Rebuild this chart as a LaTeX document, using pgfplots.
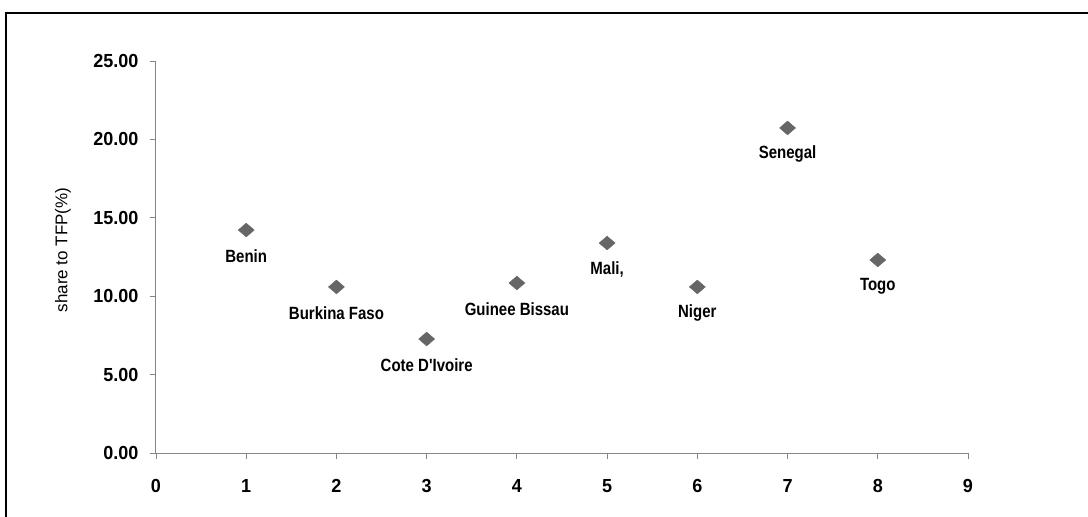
\documentclass[border=0pt]{standalone}
\usepackage{fontspec}
\setmainfont{Liberation Sans}
\usepackage{pgfplots}
\pgfplotsset{compat=1.18}
\definecolor{axgray}{RGB}{134,134,134}
\definecolor{mkgray}{RGB}{102,102,102}
\begin{document}
\begin{tikzpicture}[x=1pt,y=1pt]
\useasboundingbox (-156,-64) rectangle (932,453);
\draw[line width=2.5pt,black] (-150,-80) -- (-150,440) -- (950,440);
\begin{axis}[
  at={(0,0)}, anchor=south west,
  scale only axis, width=812pt, height=392pt,
  xmin=0, xmax=9, ymin=0, ymax=25,
  axis x line*=bottom, axis y line*=left,
  axis line style={draw=axgray, line width=1pt},
  xtick={0,1,...,9}, ytick={0,5,...,25},
  tick style={draw=axgray, line width=0.8pt},
  tick align=outside, major tick length=6pt,
  /pgf/number format/assume math mode=true,
  ticklabel style={font=\fontsize{18}{20}\selectfont\bfseries, text=black, yscale=1.05},
  yticklabel style={/pgf/number format/.cd, fixed, fixed zerofill, precision=2, /tikz/.cd, xshift=-8pt},
  xticklabel style={yshift=-16pt},
  ylabel={share to TFP(\%)},
  ylabel style={font=\fontsize{17}{19}\selectfont, at={(axis description cs:-0.1145,0.518)}, anchor=center},
]
\addplot[only marks, mark=diamond*, mark size=6.9pt,
  mark options={fill=mkgray, draw=mkgray, xscale=1.55},
  nodes near coords, point meta=explicit symbolic,
  every node near coord/.style={anchor=center, yshift=-26pt, font=\fontsize{15}{17}\selectfont\bfseries, text=black, yscale=1.18}]
  table[col sep=comma, meta=label] {
x,y,label
1,14.22,Benin
2,10.59,Burkina Faso
3,7.27,Cote D\textquotesingle Ivoire
4,10.84,Guinee Bissau
5,13.39,{Mali,}
6,10.59,Niger
7,20.73,Senegal
8,12.31,Togo
};
\end{axis}
\end{tikzpicture}
\end{document}
